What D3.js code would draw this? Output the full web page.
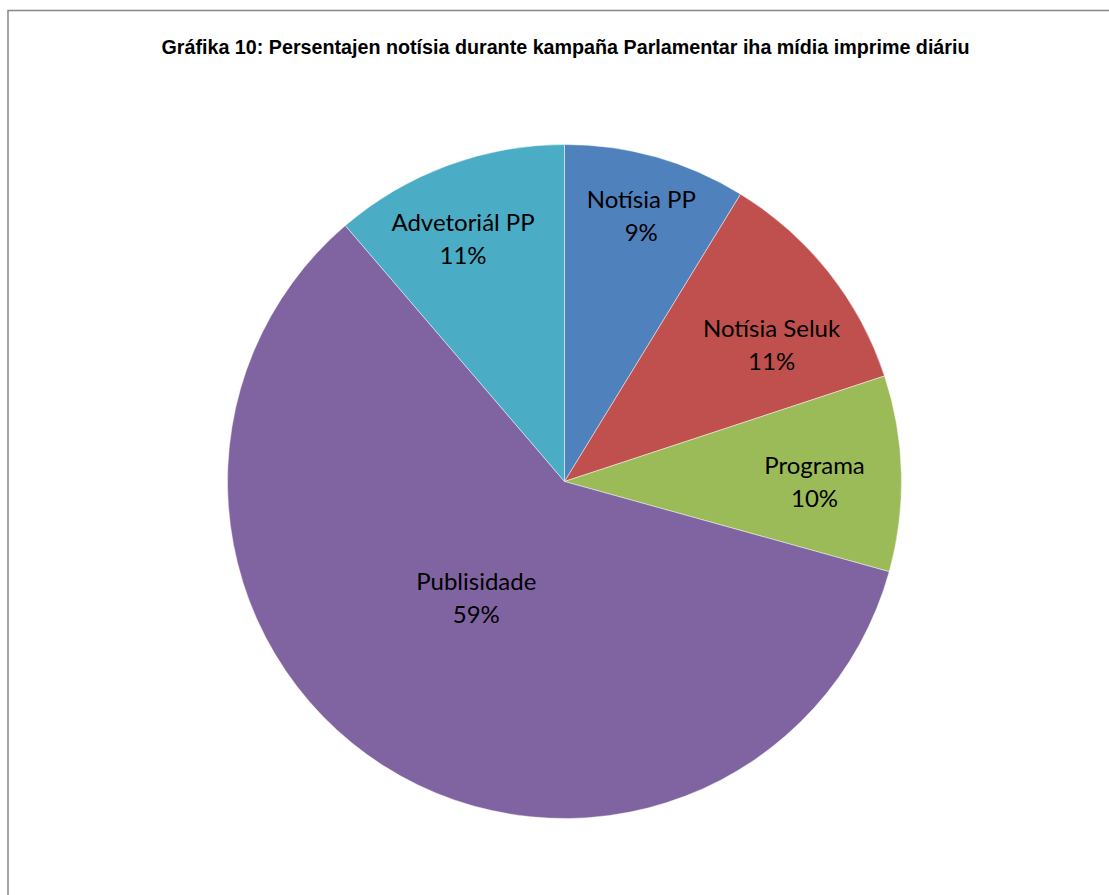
<!DOCTYPE html>
<html>
<head>
<meta charset="utf-8">
<script src="https://cdn.jsdelivr.net/npm/d3@7"></script>
<style>
    body { margin: 0; background: #fff; }
    svg { display: block; }
</style>
</head>
<body>
<div class="chart-container"></div>
<script>
// Data (shares in percent, clockwise from 12 o'clock).
const categories = ["Notísia PP", "Notísia Seluk", "Programa", "Publisidade", "Advetoriál PP"];
const shares = [8.75, 11.18, 9.38, 59.42, 11.27];
const shareLabels = ["9%", "11%", "10%", "59%", "11%"];
const colors = ["#4F81BD", "#C0504D", "#9BBB59", "#8064A2", "#4BACC6"];

const WIDTH = 1109;
const HEIGHT = 895;
const CENTER = { x: 564.5, y: 481.5 };
const RADIUS = 337;
const LABEL_FONT_SIZE = 24;
const TITLE_WIDTH = 808;
const TITLE = "Gráfika 10: Persentajen notísia durante kampaña Parlamentar iha mídia imprime diáriu";

// Label placement like Excel's "best fit": distance from centre and angle shift per slice.
const labelRadius = [276, 248, 250, 146, 263];
const labelAngleShift = [0.4, 5, 1.5, 4.7, -2.4];

const rows = categories.map((name, i) => ({
    name: name,
    value: shares[i],
    label: shareLabels[i],
    color: colors[i],
    labelR: labelRadius[i],
    labelShift: labelAngleShift[i],
}));

const svg = d3
    .select(".chart-container")
    .append("svg")
    .attr("width", WIDTH)
    .attr("height", HEIGHT);

// Chart frame, running past the right and bottom edges of the picture.
svg.append("rect")
    .attr("x", 8)
    .attr("y", 10.5)
    .attr("width", WIDTH + 20)
    .attr("height", HEIGHT + 20)
    .attr("fill", "#fff")
    .attr("stroke", "#868686")
    .attr("stroke-width", 1.5);

// No narrow font is installed, so the title is squeezed to the original width.
svg.append("text")
    .attr("x", 565.5)
    .attr("y", 54)
    .attr("text-anchor", "middle")
    .attr("font-family", "'Liberation Sans Narrow', 'Arial Narrow', 'Liberation Sans', Arial, sans-serif")
    .attr("font-weight", "bold")
    .attr("font-size", 20)
    .attr("fill", "#000")
    .attr("textLength", TITLE_WIDTH)
    .attr("lengthAdjust", "spacingAndGlyphs")
    .text(TITLE);

const pie = d3.pie().value((d) => d.value).sort(null);
const arc = d3.arc().innerRadius(0).outerRadius(RADIUS);

const pieGroup = svg
    .append("g")
    .attr("transform", "translate(" + CENTER.x + ", " + CENTER.y + ")");

const slices = pie(rows);

pieGroup
    .selectAll("path.slice")
    .data(slices)
    .enter()
    .append("path")
    .classed("slice", true)
    .attr("d", arc)
    .attr("fill", (d) => d.data.color)
    .attr("stroke", "rgba(255,255,255,0.6)")
    .attr("stroke-width", 0.75);

const labels = pieGroup
    .selectAll("text.label")
    .data(slices)
    .enter()
    .append("text")
    .classed("label", true)
    .attr("text-anchor", "middle")
    .attr("font-family", "Lato, 'Open Sans', sans-serif")
    .attr("font-size", LABEL_FONT_SIZE)
    .attr("fill", "#000")
    .attr("transform", (d) => {
        const a = (d.startAngle + d.endAngle) / 2 + (d.data.labelShift * Math.PI) / 180;
        const x = Math.sin(a) * d.data.labelR;
        const y = -Math.cos(a) * d.data.labelR;
        return "translate(" + x + ", " + y + ")";
    });

labels
    .append("tspan")
    .attr("x", 0)
    .attr("dy", -8)
    .text((d) => d.data.name);
labels
    .append("tspan")
    .attr("x", 0)
    .attr("dy", 33)
    .text((d) => d.data.label);
</script>
</body>
</html>
